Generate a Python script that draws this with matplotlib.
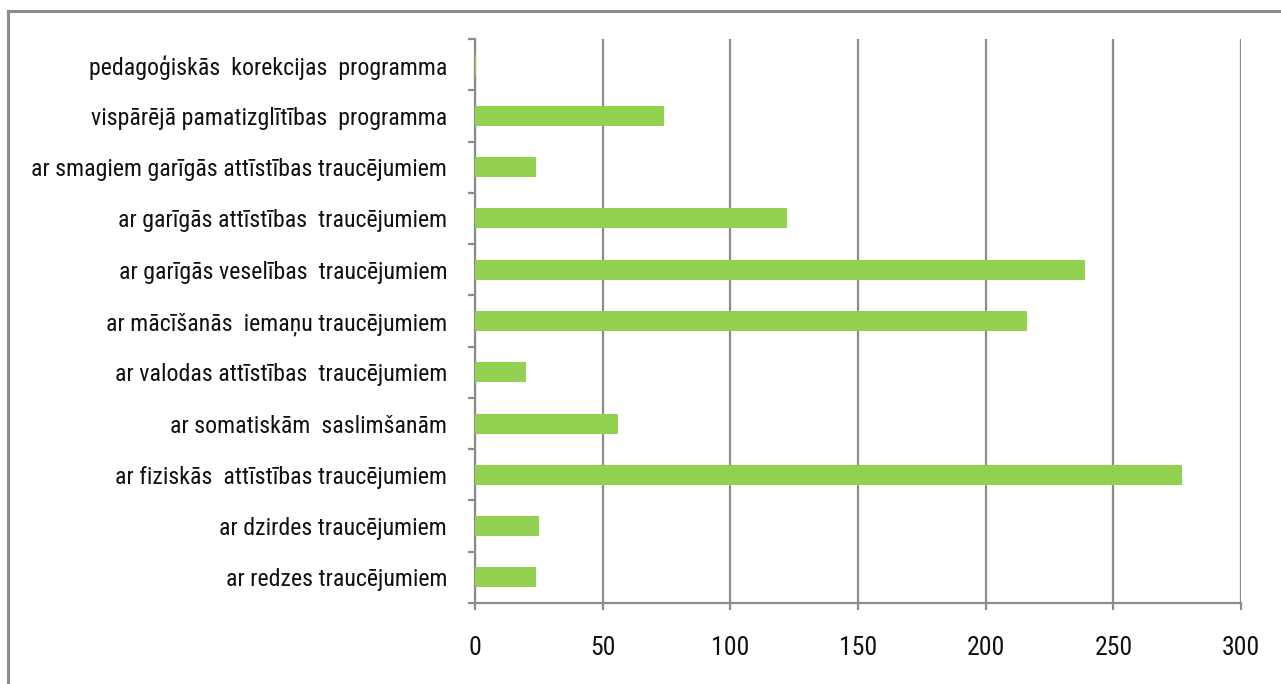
import matplotlib
matplotlib.use("Agg")
import matplotlib.pyplot as plt
from matplotlib.ticker import FixedLocator
from matplotlib.lines import Line2D
import numpy as np

categories = [
    "ar redzes traucējumiem",
    "ar dzirdes traucējumiem",
    "ar fiziskās  attīstības traucējumiem",
    "ar somatiskām  saslimšanām",
    "ar valodas attīstības  traucējumiem",
    "ar mācīšanās  iemaņu traucējumiem",
    "ar garīgās veselības  traucējumiem",
    "ar garīgās attīstības  traucējumiem",
    "ar smagiem garīgās attīstības traucējumiem",
    "vispārējā pamatizglītības  programma",
    "pedagoģiskās  korekcijas  programma",
]
values = [24, 25, 277, 56, 20, 216, 239, 122, 24, 74, 0.5]
x_ticks = [0, 50, 100, 150, 200, 250, 300]

W, H = 1281, 684
fig = plt.figure(figsize=(W / 100, H / 100), dpi=100)
fig.patch.set_facecolor("white")

font = ["Roboto Condensed", "Archivo Narrow", "DejaVu Sans"]
grey = "#8c8c8c"

ax = fig.add_axes([475 / W, 1 - 603 / H, (1241 - 475) / W, (603 - 39) / H])
y = np.arange(len(categories))
ax.barh(y, values, height=0.39, color="#92D050", zorder=3)

ax.set_xlim(0, 300)
ax.set_ylim(-0.5, len(categories) - 0.5)
ax.set_xticks(x_ticks)
ax.set_xticklabels([str(t) for t in x_ticks], fontsize=18.5, family=font, color="#111111")
ax.set_yticks(y)
ax.set_yticklabels(categories, fontsize=17.2, family=font, color="#111111")
ax.yaxis.set_minor_locator(FixedLocator(np.arange(-0.5, len(categories), 1.0)))

ax.grid(axis="x", color=grey, linewidth=1.6, zorder=0)
for s in ["top", "right"]:
    ax.spines[s].set_visible(False)
for s in ["left", "bottom"]:
    ax.spines[s].set_color(grey)
    ax.spines[s].set_linewidth(1.6)

ax.tick_params(axis="y", which="major", length=0, pad=20)
ax.tick_params(axis="y", which="minor", length=5, width=1.6, color=grey)
ax.tick_params(axis="x", which="major", length=5, width=1.6, color=grey, pad=19)

# outer frame (partially visible)
fig.add_artist(Line2D([7.5 / W, 7.5 / W], [0, 1 - 10.5 / H], transform=fig.transFigure,
                      color=grey, linewidth=2.2))
fig.add_artist(Line2D([7.5 / W, 1.0], [1 - 10.5 / H, 1 - 10.5 / H], transform=fig.transFigure,
                      color=grey, linewidth=2.2))

fig.savefig("out.png", dpi=100, facecolor="white")
